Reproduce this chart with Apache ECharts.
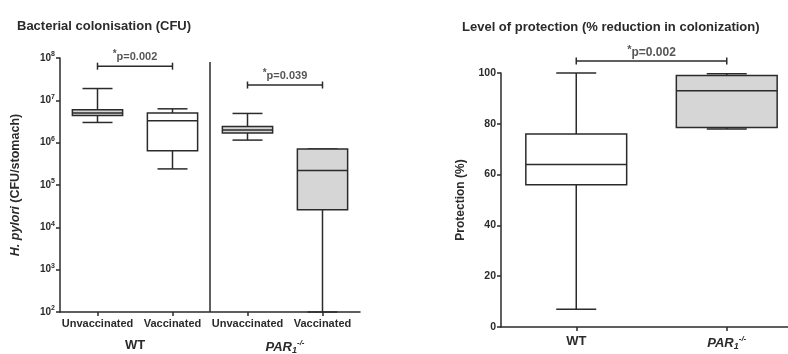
<!DOCTYPE html>
<html>
<head>
<meta charset="utf-8">
<script src="https://cdn.jsdelivr.net/npm/echarts@6/dist/echarts.min.js"></script>
<style>
  html, body { margin: 0; padding: 0; background: #fff; }
  #chart { width: 788px; height: 354px; }
</style>
</head>
<body>
<div id="chart"></div>
<script>
// left panel: CFU per stomach (log scale)
const cfuCategories = ["Unvaccinated", "Vaccinated", "Unvaccinated", "Vaccinated"];
const cfuGroups = ["WT", "PAR1-/-"];
const cfuMin = [3.0e6, 2.4e5, 1.15e6, 100];
const cfuQ1 = [4.4e6, 6.4e5, 1.7e6, 2.6e4];
const cfuMedian = [5.0e6, 3.3e6, 2.0e6, 2.2e5];
const cfuQ3 = [6.0e6, 5.0e6, 2.4e6, 7.1e5];
const cfuMax = [1.9e7, 6.3e6, 4.9e6, 7.1e5];

// right panel: protection (%)
const protCategories = ["WT", "PAR1-/-"];
const protMin = [7, 78];
const protQ1 = [56, 78.5];
const protMedian = [64, 93];
const protQ3 = [76, 99];
const protMax = [100, 99.7];

// significance annotations: [fromIndex, toIndex, y, label]
const cfuSig = [[0, 1, 6.4e7, "p=0.002"], [2, 3, 2.3e7, "p=0.039"]];
const protSig = [[0, 1, 104.7, "p=0.002"]];

const boxFillLeft = ["#d6d6d6", "#ffffff", "#d6d6d6", "#d6d6d6"];
const boxFillRight = ["#ffffff", "#d6d6d6"];

const ink = "#2b2b2b";
const font = "Liberation Sans, Arial, sans-serif";

function toRows(mins, q1, med, q3, max) {
    return mins.map((v, i) => [i, v, q1[i], med[i], q3[i], max[i]]);
}

function boxRenderer(fills, capPx) {
    return function (params, api) {
        const x = api.value(0);
        const pMin = api.coord([x, api.value(1)]);
        const pQ1 = api.coord([x, api.value(2)]);
        const pMed = api.coord([x, api.value(3)]);
        const pQ3 = api.coord([x, api.value(4)]);
        const pMax = api.coord([x, api.value(5)]);
        const half = (api.size([1, 1])[0] * 0.67) / 2;
        const cx = pMed[0];
        const line = { stroke: ink, lineWidth: 1.5 };
        const seg = (x1, y1, x2, y2) => ({
            type: "line",
            shape: { x1: x1, y1: y1, x2: x2, y2: y2 },
            style: line,
        });
        return {
            type: "group",
            children: [
                seg(cx, pMax[1], cx, pQ3[1]),
                seg(cx, pQ1[1], cx, pMin[1]),
                seg(cx - capPx / 2, pMax[1], cx + capPx / 2, pMax[1]),
                seg(cx - capPx / 2, pMin[1], cx + capPx / 2, pMin[1]),
                {
                    type: "rect",
                    shape: { x: cx - half, y: pQ3[1], width: half * 2, height: pQ1[1] - pQ3[1] },
                    style: { fill: fills[params.dataIndex], stroke: ink, lineWidth: 1.5 },
                },
                seg(cx - half, pMed[1], cx + half, pMed[1]),
            ],
        };
    };
}

function parLabel(v) {
    return v === "PAR1-/-" ? "{it|PAR}{sub|1}{sup|-/-}" : v;
}

const groupRich = {
    it: { fontStyle: "italic", fontWeight: "bold", fontSize: 13, color: ink, fontFamily: font },
    sub: { fontStyle: "italic", fontWeight: "bold", fontSize: 9, color: ink, padding: [6, 0, 0, 0], fontFamily: font },
    sup: { fontStyle: "italic", fontSize: 8, color: ink, padding: [0, 0, 9, 0], fontFamily: font },
};

function sigSeries(list, xAxisIndex, yAxisIndex, fontSize, dist) {
    const out = [];
    list.forEach((s) => {
        out.push({
            type: "line",
            xAxisIndex: xAxisIndex,
            yAxisIndex: yAxisIndex,
            data: [[s[0], s[2]], [s[1], s[2]]],
            symbol: "rect",
            symbolSize: [1.5, 7],
            itemStyle: { color: ink },
            lineStyle: { color: ink, width: 1.5 },
            clip: false,
            silent: true,
        });
        out.push({
            type: "scatter",
            xAxisIndex: xAxisIndex,
            yAxisIndex: yAxisIndex,
            data: [[(s[0] + s[1]) / 2, s[2]]],
            symbolSize: 0,
            clip: false,
            silent: true,
            label: {
                show: true,
                position: "top",
                distance: dist,
                formatter: "{s|*}" + s[3],
                color: ink,
                fontWeight: "bold",
                fontSize: fontSize,
                fontFamily: font,
                rich: { s: { fontSize: fontSize - 1, fontWeight: "bold", color: ink, padding: [0, 0, 6, 0] } },
            },
        });
    });
    return out;
}

const chart = echarts.init(document.getElementById("chart"));

const axisLine = { show: true, onZero: false, lineStyle: { color: ink, width: 1.5 } };
const axisTick = { show: true, length: 4, lineStyle: { color: ink, width: 1.5 } };

chart.setOption({
    animation: false,
    backgroundColor: "#fff",
    textStyle: { fontFamily: font },
    title: [
        {
            text: "Bacterial colonisation (CFU)",
            left: 12, top: 15,
            textStyle: { fontSize: 13, fontWeight: "bold", color: ink, fontFamily: font },
        },
        {
            text: "Level of protection (% reduction in colonization)",
            left: 457, top: 16,
            textStyle: { fontSize: 13, fontWeight: "bold", color: ink, fontFamily: font },
        },
    ],
    grid: [
        { left: 60, top: 58, width: 300, height: 254, outerBoundsMode: "none" },
        { left: 501, top: 73, width: 301, height: 254, outerBoundsMode: "none" },
    ],
    xAxis: [
        {
            type: "category", gridIndex: 0, data: cfuCategories,
            axisLine: axisLine,
            axisTick: Object.assign({ alignWithLabel: true }, axisTick),
            axisLabel: { color: ink, fontWeight: "bold", fontSize: 11, margin: 6, interval: 0 },
            splitLine: { show: false },
        },
        {
            type: "category", gridIndex: 0, data: cfuGroups, position: "bottom", offset: 21,
            axisLine: { show: false }, axisTick: { show: false },
            axisLabel: {
                color: ink, fontWeight: "bold", fontSize: 13, margin: 6, interval: 0,
                showMinLabel: true, showMaxLabel: true,
                formatter: parLabel, rich: groupRich,
            },
        },
        { type: "value", gridIndex: 0, min: -0.5, max: 3.5, show: false },
        {
            type: "category", gridIndex: 1, data: protCategories,
            axisLine: axisLine,
            axisTick: Object.assign({ alignWithLabel: true }, axisTick),
            axisLabel: {
                color: ink, fontWeight: "bold", fontSize: 13, margin: 8, interval: 0,
                showMinLabel: true, showMaxLabel: true,
                formatter: parLabel, rich: groupRich,
            },
        },
        { type: "value", gridIndex: 1, min: -0.5, max: 1.5, show: false },
    ],
    yAxis: [
        {
            type: "log", gridIndex: 0, logBase: 10, min: 100, max: 1e8, interval: 1,
            name: "{i|H. pylori} (CFU/stomach)",
            nameLocation: "middle", nameRotate: 90, nameGap: 38,
            nameTextStyle: {
                color: ink, fontWeight: "bold", fontSize: 12.5, fontFamily: font,
                rich: { i: { fontStyle: "italic", fontWeight: "bold", fontSize: 12.5, color: ink, fontFamily: font } },
            },
            axisLine: axisLine, axisTick: axisTick,
            splitLine: { show: false },
            axisLabel: {
                color: ink, fontSize: 10, fontWeight: "bold", margin: 5,
                formatter: (v) => "10{s|" + Math.round(Math.log10(v)) + "}",
                rich: { s: { fontSize: 7, color: ink, padding: [0, 0, 7, 0] } },
            },
        },
        {
            type: "value", gridIndex: 1, min: 0, max: 100, interval: 20,
            name: "Protection (%)",
            nameLocation: "middle", nameRotate: 90, nameGap: 34,
            nameTextStyle: { color: ink, fontWeight: "bold", fontSize: 12, fontFamily: font },
            axisLine: axisLine, axisTick: axisTick,
            splitLine: { show: false },
            axisLabel: { color: ink, fontSize: 10.5, fontWeight: "bold", margin: 5 },
        },
    ],
    series: [
        {
            type: "custom", xAxisIndex: 0, yAxisIndex: 0,
            renderItem: boxRenderer(boxFillLeft, 30),
            data: toRows(cfuMin, cfuQ1, cfuMedian, cfuQ3, cfuMax),
            silent: true,
        },
        {
            type: "line", xAxisIndex: 2, yAxisIndex: 0,
            data: [[1.5, 8e7], [1.5, 100]],
            symbol: "none",
            lineStyle: { color: ink, width: 1.5 },
            silent: true,
        },
        {
            type: "custom", xAxisIndex: 3, yAxisIndex: 1,
            renderItem: boxRenderer(boxFillRight, 40),
            data: toRows(protMin, protQ1, protMedian, protQ3, protMax),
            silent: true,
        },
    ]
        .concat(sigSeries(cfuSig, 2, 0, 11, 1))
        .concat(sigSeries(protSig, 4, 1, 12, 0)),
});
</script>
</body>
</html>
